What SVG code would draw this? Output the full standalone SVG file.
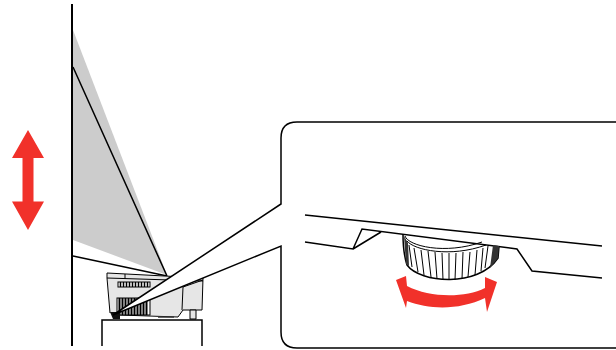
<svg xmlns="http://www.w3.org/2000/svg" width="616" height="350" viewBox="0 0 616 350">
<style>
.l{fill:none;stroke:#000;stroke-width:1.5}
.t{fill:none;stroke:#000;stroke-width:1}
.r{fill:#f1312a}
</style>
<rect width="616" height="350" fill="#fff"/>
<g id="screen">
<polygon points="73,30 167,275 73,240" fill="#ccc"/>
<line x1="72" y1="4" x2="72" y2="346" stroke="#000" stroke-width="2"/>
<path class="l" d="M73,67 L167,276 M73,256 L167,276"/>
</g>
<g id="move-arrow"><polygon class="r" points="28,130 44,158 33.5,158 33.5,201.500 44,201.500 28,230 12,201.500 22.500,201.500 22.500,158 12,158"/></g>
<g id="projector">
<path d="M107,273 L203,278 L202,310 L183,310 L178,317 L150,315 L110,313 Z" fill="#e6e6e6"/>
<path d="M107,273 L203,278 L202,310 H183 L178,317 L120,315 M107,273 V278 L110,313 M107,278 L203,281 M125,274 V279 M183,287 L182,310 M183,287 L203,280" class="t"/>
<rect x="118" y="282" width="32" height="5" fill="#fff" stroke="#000"/>
<rect x="117" y="298" width="33" height="17" fill="#fff" stroke="#000"/>
<path d="M120.500,282v5M123.500,282v5M126.500,282v5M129.500,282v5M132.500,282v5M135.500,282v5M138.500,282v5M141.500,282v5M144.500,282v5M147.500,282v5" stroke="#000" stroke-width="1.500"/>
<path d="M119.500,298v17M122.500,298v17M125.500,298v17M128.500,298v17M131.500,298v17M134.500,298v17M137.500,298v17M140.500,298v17M143.500,298v17M146.500,298v17" stroke="#000" stroke-width="2"/>
<path d="M190,310h6v9h-6z" fill="#e6e6e6" stroke="#000"/>
<path d="M110,312 H120 V319 H113 Z" fill="#111"/>
<path d="M158,317 h16" stroke="#333" stroke-width="1.500"/>
<path class="l" d="M102,346 V320 H202 V346"/>
</g>
<g id="callout">
<polygon points="113,315 281,204 281,246" fill="#fff"/>
<path class="l" d="M113,315 L281,204 V138 Q281,122 297,122 H616 M113,315 L281,246 V332 Q281,348 297,348 H616"/>
</g>
<g id="detail">
<path d="M403,234 L404,250 L407,265 C420,283 475,287 498,258 L499,247 L500,246 Z" fill="#fff"/>
<path class="l" d="M403,234 C403,245 404,256 407,265 C420,283 478,288 498,258 L499,246"/>
<path class="l" d="M305,215 L602,246 M305,242 L353,249 L362,229 L517,249 L532,271 L602,278 M353,249 L381,232"/>
<path d="M404,236 L406,264 L409,266 L408,243 Z M493,245 L490,268 L498,258 L499,246 Z" fill="#333"/>
<path class="t" d="M405,236 C408,246 445,255 482,242 M407,241 C414,250 450,258 486,245"/>
<path class="t" d="M409,245l3,22M414,248l4,24M421,250l3,25M428,251l3,26M435,252l2,27M442,253l1,27M449,253l0,27M456,253l-1,27M463,252l-1,27M470,252l-2,25M477,250l-2,25M483,248l-2,23M488,246l-3,22"/>
<path class="r" d="M396,280 L406,276 L407,286 C430,298 465,298 485,288 L485,277 L497,282 L487,312 L485,298 C460,310 430,310 407,301 L406,308 Z"/>
</g>
</svg>
